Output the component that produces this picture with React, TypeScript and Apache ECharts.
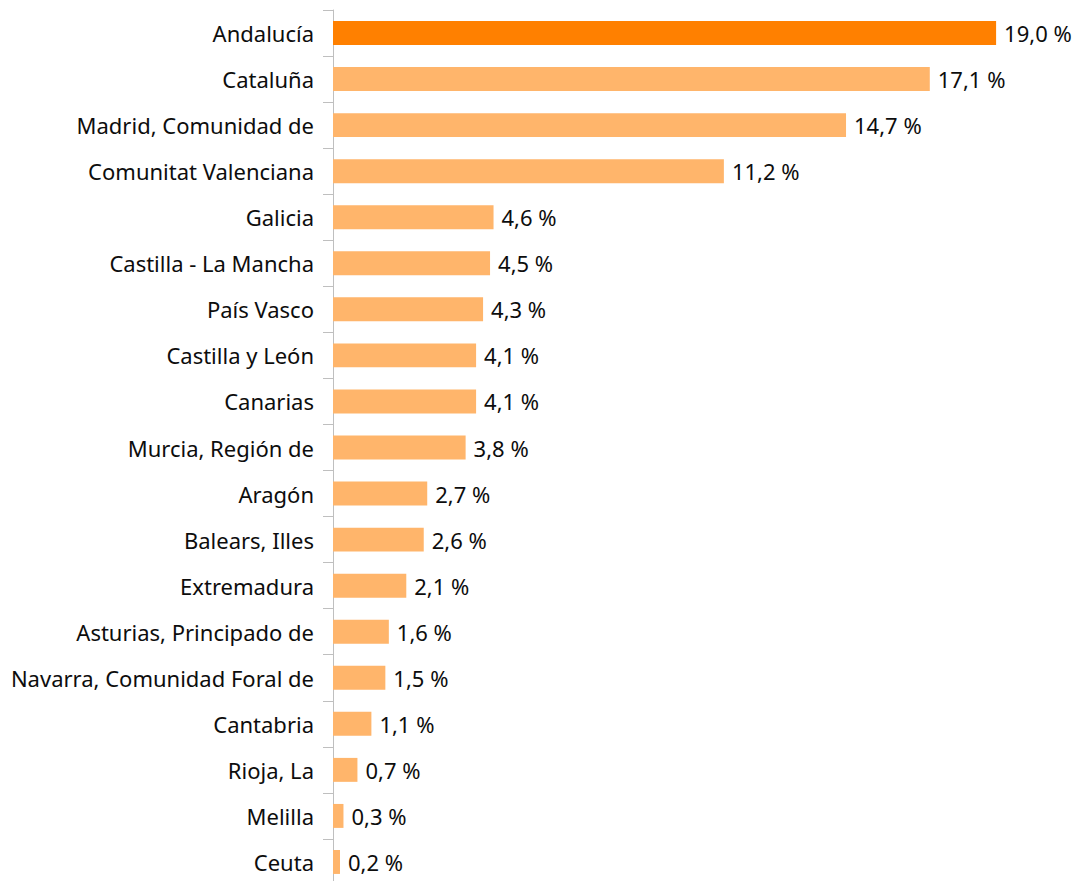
import React, { useEffect, useRef } from "react";
import * as echarts from "echarts";

const categories = [
  "Andalucía",
  "Cataluña",
  "Madrid, Comunidad de",
  "Comunitat Valenciana",
  "Galicia",
  "Castilla - La Mancha",
  "País Vasco",
  "Castilla y León",
  "Canarias",
  "Murcia, Región de",
  "Aragón",
  "Balears, Illes",
  "Extremadura",
  "Asturias, Principado de",
  "Navarra, Comunidad Foral de",
  "Cantabria",
  "Rioja, La",
  "Melilla",
  "Ceuta",
];

const values = [19.0, 17.1, 14.7, 11.2, 4.6, 4.5, 4.3, 4.1, 4.1, 3.8, 2.7, 2.6, 2.1, 1.6, 1.5, 1.1, 0.7, 0.3, 0.2];

const highlighted = "Andalucía";

export default function App() {
  const ref = useRef<HTMLDivElement>(null);
  useEffect(() => {
    if (!ref.current) return;
    const chart = echarts.init(ref.current, null, { renderer: "svg" });
    const font = "'Noto Sans', 'Open Sans', sans-serif";
    chart.setOption({
      animation: false,
      backgroundColor: "#ffffff",
      grid: { left: 333, top: 10, width: 698, height: 875, containLabel: false },
      xAxis: { type: "value", min: 0, max: 20, show: false },
      yAxis: {
        type: "category",
        data: categories,
        inverse: true,
        axisLine: { show: true, lineStyle: { color: "#bfbfbf", width: 1 } },
        axisTick: { show: true, length: 10, lineStyle: { color: "#bfbfbf" } },
        axisLabel: { margin: 19, color: "#0d0d0d", fontSize: 22, fontFamily: font },
        splitLine: { show: false },
      },
      series: [
        {
          type: "bar",
          barWidth: "52%",
          data: values.map((v, i) => ({
            value: v,
            itemStyle: { color: categories[i] === highlighted ? "#ff8000" : "#ffb56b" },
          })),
          label: {
            show: true,
            position: "right",
            distance: 8,
            color: "#0d0d0d",
            fontSize: 22,
            fontFamily: font,
            formatter: (p: any) => p.value.toFixed(1).replace(".", ",") + " %",
          },
        },
      ],
    });
    return () => chart.dispose();
  }, []);
  return (
    <div
      style={{ position: "absolute", left: 0, top: 0, width: 1077, height: 881, overflow: "hidden" }}
    >
      <div ref={ref} style={{ width: 1077, height: 900 }} />
    </div>
  );
}
